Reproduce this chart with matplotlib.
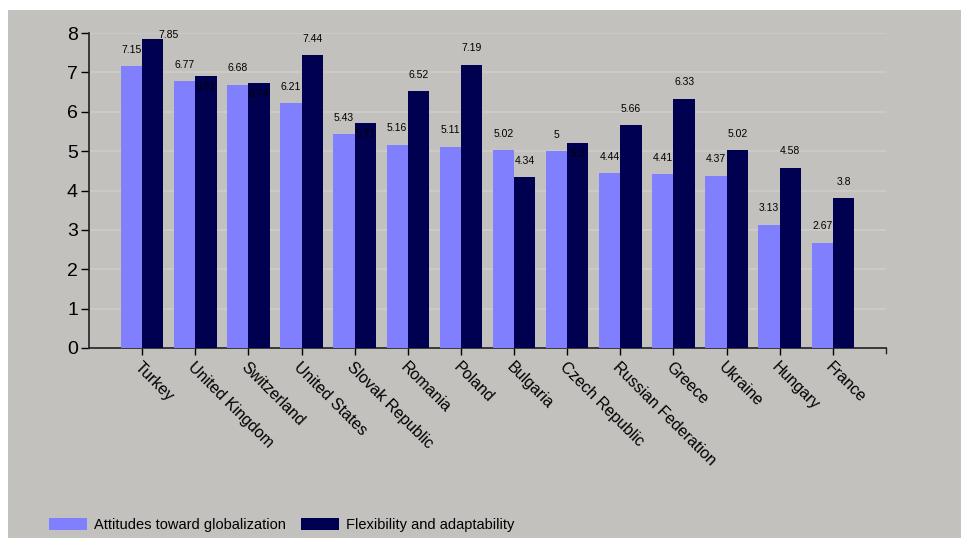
import matplotlib
matplotlib.use("Agg")
import matplotlib.pyplot as plt
from matplotlib.patches import Rectangle, Patch
import numpy as np

countries = ["Turkey", "United Kingdom", "Switzerland", "United States",
             "Slovak Republic", "Romania", "Poland", "Bulgaria",
             "Czech Republic", "Russian Federation", "Greece", "Ukraine",
             "Hungary", "France"]
attitudes = [7.15, 6.77, 6.68, 6.21, 5.43, 5.16, 5.11, 5.02, 5, 4.44, 4.41, 4.37, 3.13, 2.67]
flexibility = [7.85, 6.91, 6.74, 7.44, 5.71, 6.52, 7.19, 4.34, 5.2, 5.66, 6.33, 5.02, 4.58, 3.8]
series_names = ["Attitudes toward globalization", "Flexibility and adaptability"]

plt.rcParams["font.family"] = ["Liberation Sans", "DejaVu Sans"]

BG = "#c3c1be"
LIGHT = "#8080ff"
DARK = "#000050"

fig = plt.figure(figsize=(9.61, 5.38), dpi=100)
fig.patch.set_facecolor("white")
fig.patches.append(Rectangle((8 / 961, 0), 1, 1 - 10 / 538, transform=fig.transFigure,
                             facecolor=BG, edgecolor="none", zorder=-10))

ax = fig.add_axes([89 / 961, 1 - 348 / 538, (886 - 89) / 961, (348 - 33) / 538])
ax.set_facecolor(BG)

x = np.arange(len(countries))
w = 0.4
ax.bar(x - w / 2, attitudes, w, color=LIGHT, zorder=3)
ax.bar(x + w / 2, flexibility, w, color=DARK, zorder=3)

ax.set_xlim(-1, len(countries))
ax.set_ylim(0, 8)
ax.set_yticks(range(0, 9))
ax.tick_params(axis="y", labelsize=14, length=6, width=1, direction="out", pad=2)
for v in range(1, 9):
    ax.axhline(v, color="#cfcdca", lw=1.2, zorder=1)

ax.set_xticks(x)
ax.set_xticklabels(countries, rotation=-45, ha="left", va="top",
                   rotation_mode="anchor", fontsize=11.5)
ax.tick_params(axis="x", length=5, width=1, pad=3)

for s in ["top", "right"]:
    ax.spines[s].set_visible(False)
for s in ["left", "bottom"]:
    ax.spines[s].set_linewidth(1.2)
    ax.spines[s].set_color("#222222")
ax.plot([1, 1], [0, -0.015], transform=ax.transAxes, color="#222222", lw=1, clip_on=False)

# value labels
off = 0.42
for i, (a, f) in enumerate(zip(attitudes, flexibility)):
    ax.text(i - w / 2, a + off, f"{a:g}", ha="center", va="center", fontsize=7.5, zorder=4)
    fy = f + off
    fx = i + w / 2
    if fy > 8:
        fy = f + 0.1
        fx = i + w / 2 + 0.3
    elif abs(fy - (a + off)) < 0.3:
        fy = f - 0.28
    ax.text(fx, fy, f"{f:g}", ha="center", va="center", fontsize=7.5, zorder=4)

handles = [Patch(facecolor=LIGHT), Patch(facecolor=DARK)]
fig.legend(handles, series_names, loc="lower left", bbox_to_anchor=(36 / 961, -0.014),
           ncol=2, frameon=False, fontsize=10.5, handlelength=2.6, handleheight=0.9,
           columnspacing=1.0, handletextpad=0.5)

fig.savefig("out.png", dpi=100, facecolor=fig.get_facecolor())
